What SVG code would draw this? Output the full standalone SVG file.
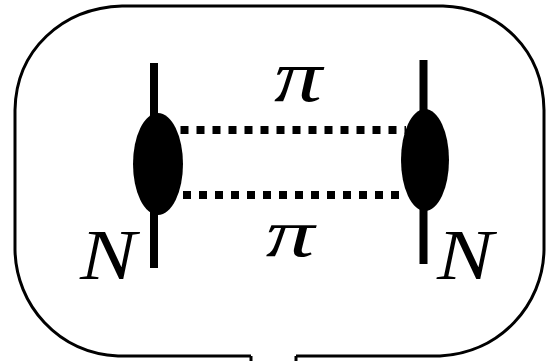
<svg xmlns="http://www.w3.org/2000/svg" width="548" height="361" viewBox="0 0 548 361">
<style>
.line{stroke:#000;stroke-width:8;fill:none}
.dot{stroke:#000;stroke-width:8;fill:none;stroke-dasharray:8 8}
.lab{font-family:"Liberation Serif","DejaVu Serif",serif;font-style:italic;fill:#000;text-anchor:middle}
</style>
<rect width="548" height="361" fill="#fff"/>
<g id="frame"><path d="M251 356 L118 356 C58 353 16 305 15 250 L15 110 C16 50 62 8 122 6 L443 6 C500 8 543 50 544 110 L544 250 C543 305 500 353 440 356 L296 356 M251 356 L251 361 M296 356 L296 361" fill="none" stroke="#000" stroke-width="3"/></g>
<g id="connectors">
<path class="dot" d="M180.5 130H406"/>
<path class="dot" d="M183 195H406"/>
</g>
<g id="nucleon-left"><path class="line" d="M154 63V268"/><ellipse cx="158" cy="164" rx="25" ry="51"/></g>
<g id="nucleon-right"><path class="line" d="M423.500 60V264"/><ellipse cx="425" cy="160" rx="24" ry="51"/></g>
<g id="labels">
<text class="lab" font-size="74" transform="translate(298 101) scale(1.3 1)">π</text>
<text class="lab" font-size="68" transform="translate(290 256) scale(1.43 1)">π</text>
<text class="lab" font-size="72" transform="translate(108 279) scale(1.17 1)">N</text>
<text class="lab" font-size="72" transform="translate(465 279) scale(1.17 1)">N</text>
</g>
</svg>
